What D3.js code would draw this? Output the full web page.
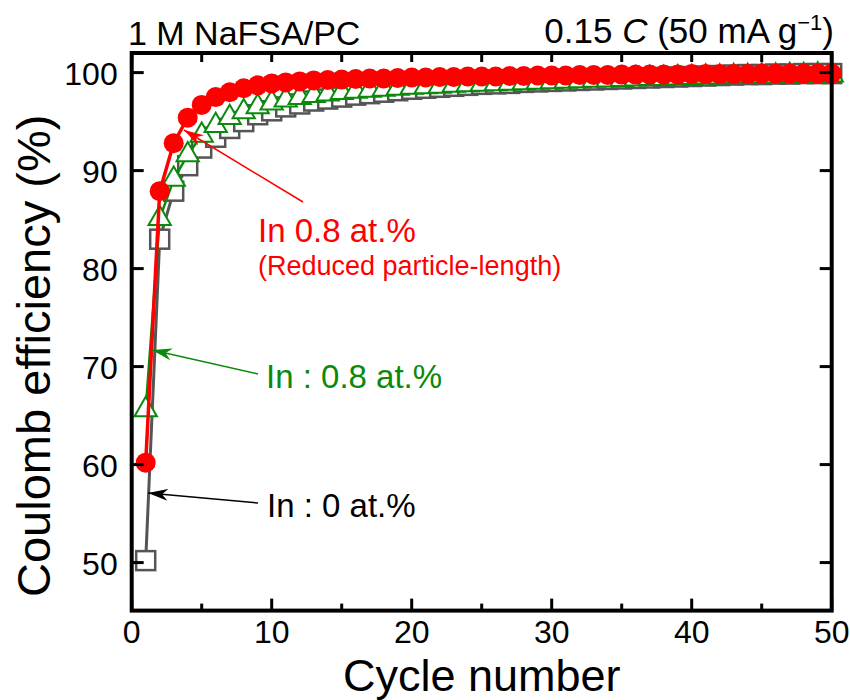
<!DOCTYPE html>
<meta charset="utf-8">
<style>
body { margin: 0; background: #fff; }
svg { display: block; font-family: "Liberation Sans", Arial, sans-serif; }
.frame { fill: none; stroke: #000; stroke-width: 4px; }
.tick-mark { stroke: #000; stroke-width: 3px; }
.tick-label { font-size: 32px; fill: #000; }
.axis-title { font-size: 47px; fill: #000; }
</style>
<body>
<script src="https://d3js.org/d3.v7.min.js"></script>
<script>

// cycle numbers
var cycles = [1,2,3,4,5,6,7,8,9,10,11,12,13,14,15,16,17,18,19,20,
              21,22,23,24,25,26,27,28,29,30,31,32,33,34,35,36,37,38,39,40,
              41,42,43,44,45,46,47,48,49,50];

// In : 0 at.%  (open squares)
var ce0 = [50.2,83.0,87.9,90.5,92.3,93.4,94.3,95.0,95.7,96.1,
           96.5,96.8,97.1,97.3,97.5,97.7,97.85,98.0,98.15,98.3,
           98.4,98.5,98.6,98.7,98.8,98.85,98.9,99.0,99.05,99.1,
           99.15,99.2,99.25,99.3,99.35,99.4,99.45,99.5,99.55,99.6,
           99.65,99.7,99.75,99.8,99.8,99.85,99.85,99.9,99.9,99.9];

// In : 0.8 at.%  (open triangles)
var ce08 = [65.6,85.1,89.1,91.6,93.6,94.6,95.4,96.0,96.5,96.9,
            97.2,97.45,97.65,97.8,97.95,98.1,98.2,98.3,98.4,98.5,
            98.55,98.6,98.7,98.75,98.8,98.85,98.9,98.95,99.0,99.05,
            99.1,99.15,99.2,99.25,99.3,99.35,99.4,99.4,99.45,99.5,
            99.55,99.55,99.6,99.6,99.65,99.65,99.7,99.7,99.75,99.75];

// In 0.8 at.% reduced particle-length (filled circles)
var ce08r = [60.2,87.9,92.8,95.4,96.7,97.5,98.0,98.4,98.7,98.9,
             99.0,99.1,99.2,99.25,99.3,99.35,99.4,99.4,99.45,99.5,
             99.5,99.55,99.55,99.6,99.6,99.6,99.65,99.65,99.7,99.7,
             99.7,99.75,99.75,99.75,99.8,99.8,99.8,99.8,99.8,99.85,
             99.85,99.85,99.85,99.85,99.9,99.9,99.9,99.9,99.9,99.9];

var xMajor = [0,10,20,30,40,50];
var xMinor = [5,15,25,35,45];
var yMajor = [50,60,70,80,90,100];

var margin = {top: 53, left: 131.7},
    width = 700,
    height = 557.6;

var x = d3.scaleLinear().domain([0, 50]).range([0, width]);
var y = d3.scaleLinear().domain([45.1, 102]).range([height, 0]);

var svg = d3.select("body").append("svg")
    .attr("width", 850)
    .attr("height", 700);

var g = svg.append("g")
    .attr("transform", "translate(" + margin.left + "," + margin.top + ")");

function rows(vals) {
  return cycles.map(function(c, i) { return {c: c, v: vals[i]}; });
}

var line = d3.line()
    .x(function(d) { return x(d.c); })
    .y(function(d) { return y(d.v); });

// ---- series: squares
g.append("path")
    .datum(rows(ce0))
    .attr("fill", "none")
    .attr("stroke", "#555")
    .attr("stroke-width", 3)
    .attr("d", line);

g.selectAll(".sq")
    .data(rows(ce0))
    .enter().append("rect")
    .attr("class", "sq")
    .attr("x", function(d) { return x(d.c) - 9.5; })
    .attr("y", function(d) { return y(d.v) - 9.5; })
    .attr("width", 19)
    .attr("height", 19)
    .attr("fill", "#fff")
    .attr("stroke", "#555")
    .attr("stroke-width", 2.5);

// ---- series: triangles
g.append("path")
    .datum(rows(ce08))
    .attr("fill", "none")
    .attr("stroke", "#0a8a0a")
    .attr("stroke-width", 2.5)
    .attr("d", line);

var tri = d3.symbol().type(d3.symbolTriangle).size(215);
g.selectAll(".tri")
    .data(rows(ce08))
    .enter().append("path")
    .attr("class", "tri")
    .attr("transform", function(d) { return "translate(" + x(d.c) + "," + y(d.v) + ")"; })
    .attr("d", tri)
    .attr("fill", "#fff")
    .attr("stroke", "#0a8a0a")
    .attr("stroke-width", 2);

// ---- series: filled circles
g.append("path")
    .datum(rows(ce08r))
    .attr("fill", "none")
    .attr("stroke", "#ff0000")
    .attr("stroke-width", 3.5)
    .attr("d", line);

g.selectAll(".dot")
    .data(rows(ce08r))
    .enter().append("circle")
    .attr("class", "dot")
    .attr("cx", function(d) { return x(d.c); })
    .attr("cy", function(d) { return y(d.v); })
    .attr("r", 10)
    .attr("fill", "#ff0000");

// ---- frame + inward ticks
g.append("rect")
    .attr("class", "frame")
    .attr("width", width)
    .attr("height", height);

g.selectAll(".xmaj")
    .data(xMajor)
    .enter().append("g")
    .each(function(d) {
      var t = d3.select(this);
      t.append("line").attr("class", "tick-mark")
        .attr("x1", x(d)).attr("x2", x(d)).attr("y1", height).attr("y2", height - 12);
      t.append("line").attr("class", "tick-mark")
        .attr("x1", x(d)).attr("x2", x(d)).attr("y1", 0).attr("y2", 9);
      t.append("text").attr("class", "tick-label")
        .attr("x", x(d)).attr("y", height + 32.5)
        .attr("text-anchor", "middle")
        .text(d);
    });

g.selectAll(".xmin")
    .data(xMinor)
    .enter().append("g")
    .each(function(d) {
      var t = d3.select(this);
      t.append("line").attr("class", "tick-mark")
        .attr("x1", x(d)).attr("x2", x(d)).attr("y1", height).attr("y2", height - 7);
      t.append("line").attr("class", "tick-mark")
        .attr("x1", x(d)).attr("x2", x(d)).attr("y1", 0).attr("y2", 9);
    });

g.selectAll(".ymaj")
    .data(yMajor)
    .enter().append("g")
    .each(function(d) {
      var t = d3.select(this);
      t.append("line").attr("class", "tick-mark")
        .attr("x1", 0).attr("x2", 12).attr("y1", y(d)).attr("y2", y(d));
      t.append("line").attr("class", "tick-mark")
        .attr("x1", width).attr("x2", width - 12).attr("y1", y(d)).attr("y2", y(d));
      t.append("text").attr("class", "tick-label")
        .attr("x", -14).attr("y", y(d) + 12)
        .attr("text-anchor", "end")
        .text(d);
    });

// ---- axis titles
svg.append("text")
    .attr("class", "axis-title")
    .attr("x", margin.left + width / 2)
    .attr("y", 690.5)
    .attr("text-anchor", "middle")
    .style("font-size", "45px")
    .text("Cycle number");

svg.append("text")
    .attr("class", "axis-title")
    .attr("transform", "translate(50," + (margin.top + height / 2 + 24) + ") rotate(-90)")
    .attr("text-anchor", "middle")
    .text("Coulomb efficiency (%)");

// ---- top labels
svg.append("text")
    .attr("x", 128).attr("y", 45)
    .style("font-size", "34px")
    .text("1 M NaFSA/PC");

var rate = svg.append("text")
    .attr("x", 834).attr("y", 43)
    .attr("text-anchor", "end")
    .style("font-size", "35px");
rate.append("tspan").text("0.15 ");
rate.append("tspan").style("font-style", "italic").text("C");
rate.append("tspan").text(" (50 mA g");
rate.append("tspan").attr("dy", -13).style("font-size", "22px").text("\u22121");
rate.append("tspan").attr("dy", 13).text(")");

// ---- annotations with arrows
var defs = svg.append("defs");
function marker(id, col) {
  defs.append("marker")
      .attr("id", id)
      .attr("viewBox", "0 0 20 12")
      .attr("refX", 20).attr("refY", 6)
      .attr("markerWidth", 20).attr("markerHeight", 12)
      .attr("markerUnits", "userSpaceOnUse")
      .attr("orient", "auto")
      .append("path")
      .attr("d", "M20,6 L0,0 L6,6 L0,12 Z")
      .attr("fill", col);
}
marker("ar-red", "#ff0000");
marker("ar-green", "#0a8a0a");
marker("ar-black", "#000");

var notes = [
  {txt: "In 0.8 at.%", col: "#ff0000", tx: 258, ty: 242, x1: 303, y1: 202, x2: 184, y2: 130, m: "ar-red"},
  {txt: "In : 0.8 at.%", col: "#0a8a0a", tx: 266, ty: 388, x1: 258, y1: 374, x2: 152, y2: 350, m: "ar-green"},
  {txt: "In : 0 at.%", col: "#000", tx: 267, ty: 517, x1: 258, y1: 503, x2: 148, y2: 493, m: "ar-black"}
];

notes.forEach(function(n) {
  svg.append("line")
      .attr("x1", n.x1).attr("y1", n.y1)
      .attr("x2", n.x2).attr("y2", n.y2)
      .attr("stroke", n.col)
      .attr("stroke-width", 1.5)
      .attr("marker-end", "url(#" + n.m + ")");
  svg.append("text")
      .attr("x", n.tx).attr("y", n.ty)
      .style("font-size", "33px")
      .style("fill", n.col)
      .text(n.txt);
});

svg.append("text")
    .attr("x", 258).attr("y", 275)
    .style("font-size", "27px")
    .style("fill", "#ff0000")
    .text("(Reduced particle-length)");

</script>
</body>
